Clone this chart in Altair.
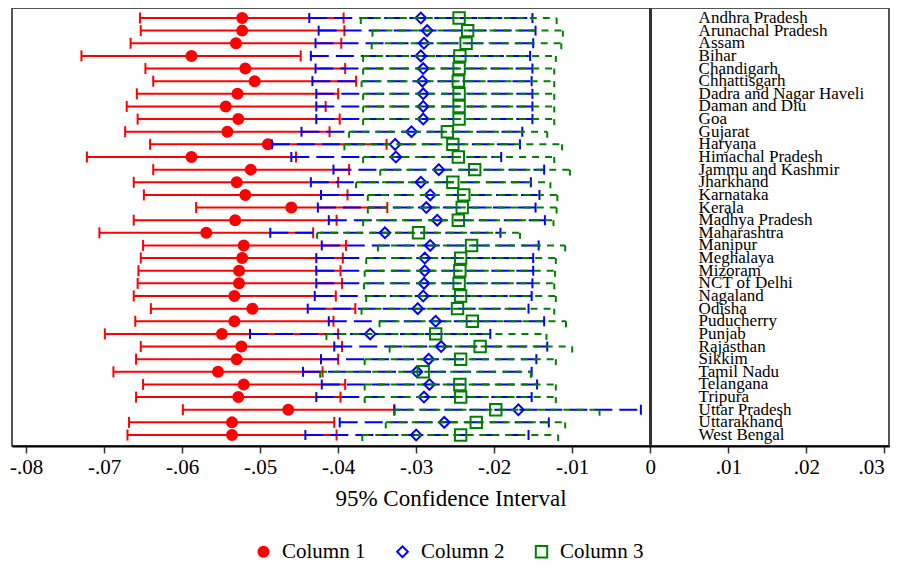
import altair as alt
import pandas as pd

states = ["Andhra Pradesh", "Arunachal Pradesh", "Assam", "Bihar", "Chandigarh",
          "Chhattisgarh", "Dadra and Nagar Haveli", "Daman and Diu", "Goa", "Gujarat",
          "Haryana", "Himachal Pradesh", "Jammu and Kashmir", "Jharkhand", "Karnataka",
          "Kerala", "Madhya Pradesh", "Maharashtra", "Manipur", "Meghalaya", "Mizoram",
          "NCT of Delhi", "Nagaland", "Odisha", "Puducherry", "Punjab", "Rajasthan",
          "Sikkim", "Tamil Nadu", "Telangana", "Tripura", "Uttar Pradesh", "Uttarakhand",
          "West Bengal"]

# Column 1 (red)
c1_lo = [-0.0654, -0.0653, -0.0666, -0.0729, -0.0647, -0.0637, -0.0658, -0.0671, -0.0657, -0.0673,
         -0.0641, -0.0722, -0.0637, -0.0662, -0.0649, -0.0582, -0.0662, -0.0706, -0.0650, -0.0653,
         -0.0656, -0.0657, -0.0662, -0.0640, -0.0660, -0.0699, -0.0653, -0.0659, -0.0688, -0.0650,
         -0.0659, -0.0599, -0.0668, -0.0670]
c1_pt = [-0.0523, -0.0523, -0.0531, -0.0588, -0.0519, -0.0507, -0.0529, -0.0544, -0.0528, -0.0542,
         -0.0490, -0.0588, -0.0512, -0.0530, -0.0519, -0.0460, -0.0532, -0.0569, -0.0521, -0.0523,
         -0.0527, -0.0527, -0.0533, -0.0510, -0.0533, -0.0549, -0.0524, -0.0530, -0.0554, -0.0521,
         -0.0528, -0.0464, -0.0536, -0.0536]
c1_hi = [-0.0393, -0.0392, -0.0396, -0.0448, -0.0391, -0.0377, -0.0400, -0.0416, -0.0398, -0.0411,
         -0.0338, -0.0454, -0.0386, -0.0400, -0.0388, -0.0337, -0.0402, -0.0432, -0.0390, -0.0394,
         -0.0397, -0.0395, -0.0403, -0.0378, -0.0406, -0.0400, -0.0395, -0.0400, -0.0420, -0.0391,
         -0.0397, -0.0328, -0.0405, -0.0402]

# Column 2 (blue)
c2_lo = [-0.0437, -0.0425, -0.0429, -0.0435, -0.0429, -0.0433, -0.0428, -0.0428, -0.0428, -0.0447,
         -0.0485, -0.0460, -0.0406, -0.0435, -0.0422, -0.0426, -0.0412, -0.0487, -0.0421, -0.0428,
         -0.0428, -0.0428, -0.0430, -0.0439, -0.0412, -0.0513, -0.0405, -0.0422, -0.0445, -0.0421,
         -0.0428, -0.0328, -0.0398, -0.0442]
c2_pt = [-0.0294, -0.0286, -0.0290, -0.0294, -0.0291, -0.0292, -0.0291, -0.0291, -0.0291, -0.0306,
         -0.0327, -0.0326, -0.0271, -0.0294, -0.0282, -0.0287, -0.0273, -0.0340, -0.0282, -0.0289,
         -0.0289, -0.0290, -0.0291, -0.0298, -0.0275, -0.0359, -0.0268, -0.0284, -0.0299, -0.0283,
         -0.0290, -0.0169, -0.0264, -0.0300]
c2_hi = [-0.0151, -0.0147, -0.0150, -0.0154, -0.0151, -0.0152, -0.0151, -0.0151, -0.0151, -0.0164,
         -0.0167, -0.0191, -0.0136, -0.0153, -0.0142, -0.0147, -0.0135, -0.0192, -0.0143, -0.0150,
         -0.0150, -0.0151, -0.0152, -0.0156, -0.0136, -0.0205, -0.0132, -0.0146, -0.0152, -0.0145,
         -0.0152, -0.0012, -0.0130, -0.0156]

# Column 3 (green)
c3_lo = [-0.0371, -0.0356, -0.0357, -0.0368, -0.0368, -0.0370, -0.0368, -0.0368, -0.0368, -0.0386,
         -0.0392, -0.0368, -0.0346, -0.0377, -0.0362, -0.0362, -0.0368, -0.0427, -0.0349, -0.0364,
         -0.0366, -0.0367, -0.0364, -0.0370, -0.0347, -0.0415, -0.0334, -0.0366, -0.0423, -0.0366,
         -0.0366, -0.0328, -0.0339, -0.0369]
c3_pt = [-0.0245, -0.0234, -0.0236, -0.0244, -0.0245, -0.0246, -0.0245, -0.0245, -0.0245, -0.0260,
         -0.0253, -0.0246, -0.0225, -0.0253, -0.0239, -0.0241, -0.0246, -0.0297, -0.0229, -0.0243,
         -0.0244, -0.0245, -0.0243, -0.0247, -0.0228, -0.0275, -0.0218, -0.0243, -0.0291, -0.0244,
         -0.0243, -0.0198, -0.0223, -0.0243]
c3_hi = [-0.0120, -0.0112, -0.0114, -0.0121, -0.0123, -0.0123, -0.0123, -0.0123, -0.0123, -0.0132,
         -0.0113, -0.0123, -0.0103, -0.0128, -0.0119, -0.0120, -0.0124, -0.0167, -0.0109, -0.0121,
         -0.0122, -0.0123, -0.0121, -0.0123, -0.0108, -0.0133, -0.0100, -0.0121, -0.0153, -0.0121,
         -0.0121, -0.0065, -0.0109, -0.0118]

series_names = ["Column 1", "Column 2", "Column 3"]
x_ticks = [-0.08, -0.07, -0.06, -0.05, -0.04, -0.03, -0.02, -0.01, 0.0, 0.01, 0.02, 0.03]

rows = []
for i, s in enumerate(states):
    for name, lo, pt, hi in [("Column 1", c1_lo[i], c1_pt[i], c1_hi[i]),
                             ("Column 2", c2_lo[i], c2_pt[i], c2_hi[i]),
                             ("Column 3", c3_lo[i], c3_pt[i], c3_hi[i])]:
        rows.append(dict(state=s, idx=i, series=name, lo=lo, pt=pt, hi=hi))
df = pd.DataFrame(rows)
labels_df = pd.DataFrame({"state": states, "idx": list(range(len(states)))})

FONT = "Liberation Serif"
RED, BLUE, GREEN = "#ff0000", "#0000ff", "#008000"

xscale = alt.Scale(domain=[-0.0818, 0.0306], nice=False, zero=False)
yscale = alt.Scale(domain=[-0.79, 33.87], reverse=True, nice=False, zero=False)
xaxis = alt.Axis(
    values=x_ticks, grid=False,
    labelExpr="abs(datum.value) < 1e-9 ? '0' : replace(replace(format(datum.value, '.2f'), '0.', '.'), '\u2212', '-')",
    labelPadding=3, labelFlush=6,
)


def X(field):
    return alt.X(field, type="quantitative", scale=xscale, axis=xaxis,
                 title="95% Confidence Interval")


Y = alt.Y("idx:Q", scale=yscale, axis=None)

base = alt.Chart(df)

leg = alt.Legend(orient="none", legendX=241, legendY=533, direction="horizontal",
                 title=None, symbolStrokeWidth=2, labelOffset=8, columnPadding=26)
enc_shape = alt.Shape("series:N", scale=alt.Scale(domain=series_names, range=["circle", "diamond", "square"]), legend=leg, title=None)
enc_fill = alt.Fill("series:N", scale=alt.Scale(domain=series_names, range=[RED, "transparent", "transparent"]), legend=leg, title=None)
enc_stroke = alt.Stroke("series:N", scale=alt.Scale(domain=series_names, range=[RED, BLUE, GREEN]), legend=leg, title=None)
enc_size = alt.Size("series:N", scale=alt.Scale(domain=series_names, range=[100, 130, 60]), legend=leg, title=None)

zero_rule = alt.Chart(df).mark_rule(color="#333", strokeWidth=2).encode(x=alt.datum(0, scale=xscale))

layers = [zero_rule]
styles = {
    "Column 1": dict(color=RED, dash=[1, 0], cap_size=11, cap_off=0),
    "Column 2": dict(color=BLUE, dash=[18, 7], cap_size=10, cap_off=0),
    "Column 3": dict(color=GREEN, dash=[7, 6], cap_size=6, cap_off=3),
}
for name in series_names:
    st = styles[name]
    sub = base.transform_filter(alt.datum.series == name)
    rule = sub.mark_rule(color=st["color"], strokeWidth=2, strokeDash=st["dash"]).encode(
        x=X("lo"), x2="hi", y=Y)
    caps = sub.transform_fold(["lo", "hi"], as_=["end", "val"]).mark_tick(
        orient="vertical", size=st["cap_size"], thickness=2, color=st["color"],
        opacity=1, yOffset=st["cap_off"]).encode(x=X("val"), y=Y)
    pts = sub.mark_point(opacity=1, strokeWidth=2).encode(
        x=X("pt"), y=Y, shape=enc_shape, fill=enc_fill, stroke=enc_stroke, size=enc_size)
    layers += [rule, caps, pts]

text = alt.Chart(labels_df).mark_text(
    align="left", baseline="middle", font=FONT, fontSize=17, color="black", dx=0
).encode(x=alt.datum(0.0062, scale=xscale), y=Y, text="state:N")
layers.append(text)

chart = alt.layer(*layers).properties(
    width=877, height=438,
    padding={"left": 4, "top": 0, "right": 2, "bottom": 117},
    autosize="none",
).configure(font=FONT).configure_view(stroke="#555", strokeWidth=2).configure_axis(
    labelFont=FONT, labelFontSize=21, labelColor="black",
    tickColor="#333", tickWidth=1.5, tickSize=7,
    domainColor="black", domainWidth=2,
    titleFont=FONT, titleFontSize=23, titleFontWeight="normal", titleColor="black",
    titlePadding=10,
).configure_legend(
    labelFont=FONT, labelFontSize=21, labelColor="black",
).resolve_scale(x="shared", y="shared")

chart.save("out.html", embed_options={"renderer": "svg", "actions": False})
